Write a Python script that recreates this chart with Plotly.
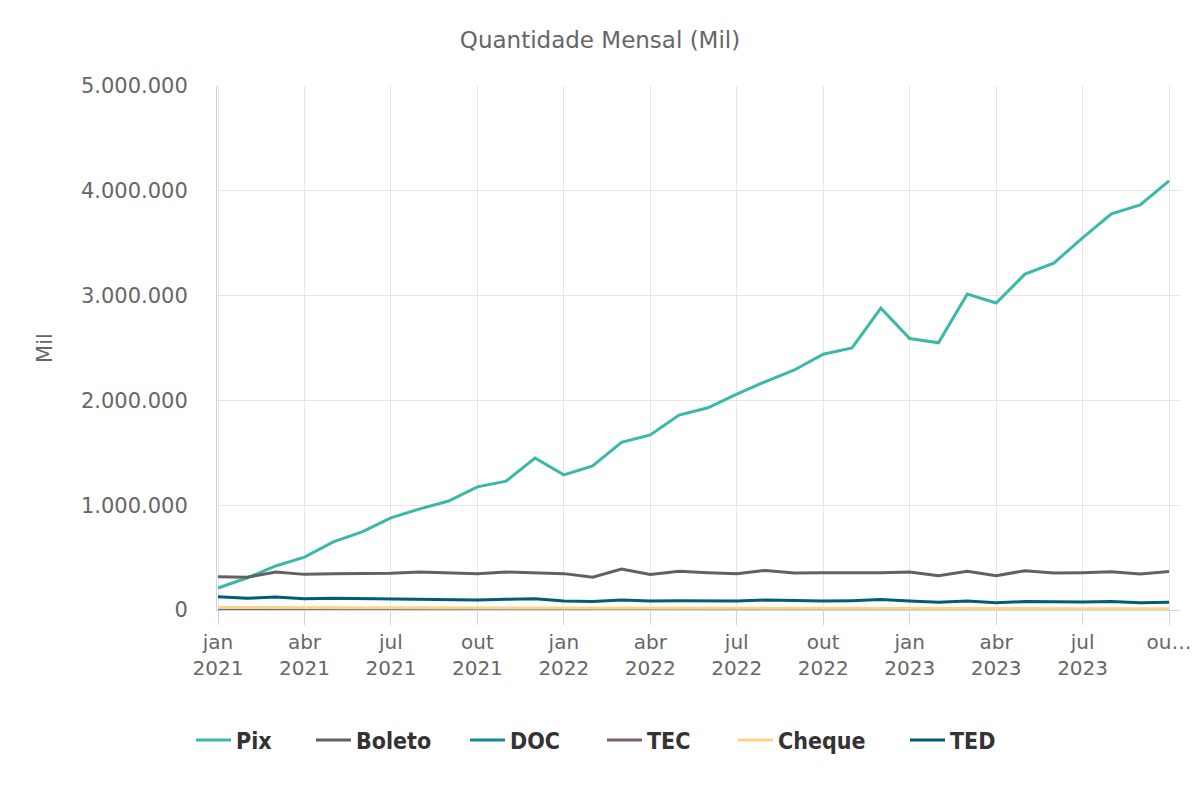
import plotly.graph_objects as go

months = ["jan 2021","fev 2021","mar 2021","abr 2021","mai 2021","jun 2021","jul 2021","ago 2021","set 2021","out 2021","nov 2021","dez 2021",
          "jan 2022","fev 2022","mar 2022","abr 2022","mai 2022","jun 2022","jul 2022","ago 2022","set 2022","out 2022","nov 2022","dez 2022",
          "jan 2023","fev 2023","mar 2023","abr 2023","mai 2023","jun 2023","jul 2023","ago 2023","set 2023","out 2023"]

pix = [210000, 305000, 420000, 505000, 650000, 745000, 880000, 965000, 1040000, 1175000, 1230000, 1450000,
       1290000, 1375000, 1600000, 1670000, 1860000, 1930000, 2060000, 2180000, 2290000, 2440000, 2500000, 2880000,
       2590000, 2550000, 3015000, 2930000, 3205000, 3310000, 3550000, 3780000, 3865000, 4095000]
boleto = [318000, 312000, 363000, 340000, 345000, 345000, 350000, 362000, 353000, 345000, 362000, 358000,
          347000, 312000, 390000, 340000, 370000, 356000, 345000, 378000, 353000, 356000, 353000, 356000,
          362000, 328000, 369000, 328000, 375000, 353000, 356000, 365000, 343000, 367000]
doc = [5000, 4800, 5000, 4600, 4500, 4300, 4300, 4100, 4000, 4000, 4000, 4000,
       3600, 3500, 3800, 3400, 3400, 3300, 3300, 3300, 3100, 3100, 3000, 3100,
       2800, 2700, 2900, 2600, 2600, 2500, 2500, 2500, 2300, 2300]
tec = [900, 850, 900, 850, 850, 800, 800, 800, 750, 750, 750, 750,
       700, 650, 700, 650, 650, 600, 600, 600, 600, 550, 550, 550,
       500, 500, 500, 500, 450, 450, 450, 450, 400, 400]
cheque = [24000, 22000, 25000, 22000, 22000, 21000, 21000, 21000, 20000, 20000, 20000, 21000,
          17000, 17000, 19000, 17000, 18000, 17000, 17000, 17000, 16000, 16000, 16000, 17000,
          14000, 14000, 15000, 14000, 14000, 13000, 13000, 13000, 12000, 12000]
ted = [127000, 111000, 124000, 108000, 112000, 108000, 105000, 102000, 99000, 95000, 102000, 108000,
       86000, 82000, 95000, 85000, 89000, 86000, 86000, 95000, 89000, 85000, 89000, 99000,
       85000, 73000, 86000, 70000, 80000, 76000, 76000, 80000, 70000, 73000]

tick_idx = [0, 3, 6, 9, 12, 15, 18, 21, 24, 27, 30, 33]
tick_text = ["jan<br>2021", "abr<br>2021", "jul<br>2021", "out<br>2021",
             "jan<br>2022", "abr<br>2022", "jul<br>2022", "out<br>2022",
             "jan<br>2023", "abr<br>2023", "jul<br>2023", "ou…"]

series = [
    ("Pix", pix, "#3bb8a9"),
    ("Boleto", boleto, "#616161"),
    ("DOC", doc, "#0f8b96"),
    ("TEC", tec, "#786468"),
    ("Cheque", cheque, "#f9d48a"),
    ("TED", ted, "#005d78"),
]
legend_ids = ["legend", "legend2", "legend3", "legend4", "legend5", "legend6"]
legend_x = [191, 311, 465, 602, 733, 905]

x = list(range(len(months)))
fig = go.Figure()
for (name, vals, color), lid in zip(series, legend_ids):
    fig.add_trace(go.Scatter(
        x=x, y=vals, name=name, mode="lines",
        line=dict(color=color, width=3),
        legend=lid,
        customdata=months,
        hovertemplate="%{customdata}<br>" + name + ": %{y:,.0f}<extra></extra>",
    ))

legend_common = dict(
    orientation="h", xref="container", yref="container",
    xanchor="left", y=1 - 740 / 800, yanchor="middle",
    font=dict(family="DejaVu Sans Condensed", size=23, color="#333333", weight="bold"),
    itemwidth=35, bgcolor="rgba(0,0,0,0)", borderwidth=0,
)
layout_legends = {}
for lid, lx in zip(legend_ids, legend_x):
    layout_legends[lid] = dict(legend_common, x=lx / 1200)

fig.update_layout(
    width=1200, height=800,
    paper_bgcolor="white", plot_bgcolor="white",
    separators=",.",
    margin=dict(l=217, r=20, t=86, b=190, autoexpand=False),
    title=dict(text="Quantidade Mensal (Mil)", x=0.5, xref="container", xanchor="center",
               y=1 - 40 / 800, yref="container", yanchor="middle",
               font=dict(family="DejaVu Sans", size=23, color="#666666")),
    font=dict(family="DejaVu Sans", color="#666666"),
    showlegend=True,
    **layout_legends,
)
fig.update_xaxes(
    range=[-0.035, 33.38], tickmode="array", tickvals=tick_idx, ticktext=tick_text,
    showgrid=True, gridcolor="#e6e6e6", gridwidth=1,
    showline=True, linecolor="#ccd6eb", linewidth=1,
    ticks="outside", ticklen=14, tickcolor="#ccd6eb",
    tickfont=dict(family="DejaVu Sans", size=20, color="#666666"),
    zeroline=False, fixedrange=True, automargin=False,
)
fig.update_yaxes(
    range=[0, 5000000], tickmode="array",
    tickvals=[0, 1000000, 2000000, 3000000, 4000000, 5000000],
    tickformat=",.0f",
    showgrid=True, gridcolor="#e6e6e6", gridwidth=1,
    showline=True, linecolor="#ccd6eb", linewidth=1,
    ticks="outside", ticklen=24, tickcolor="rgba(0,0,0,0)",
    tickfont=dict(family="DejaVu Sans", size=21, color="#666666"),
    title=dict(text="Mil", standoff=22, font=dict(family="DejaVu Sans", size=21, color="#666666")),
    zeroline=False, fixedrange=True, automargin=False,
)

fig.write_html("out.html", config={"displayModeBar": False},
               post_script="document.body.style.margin='0';")
